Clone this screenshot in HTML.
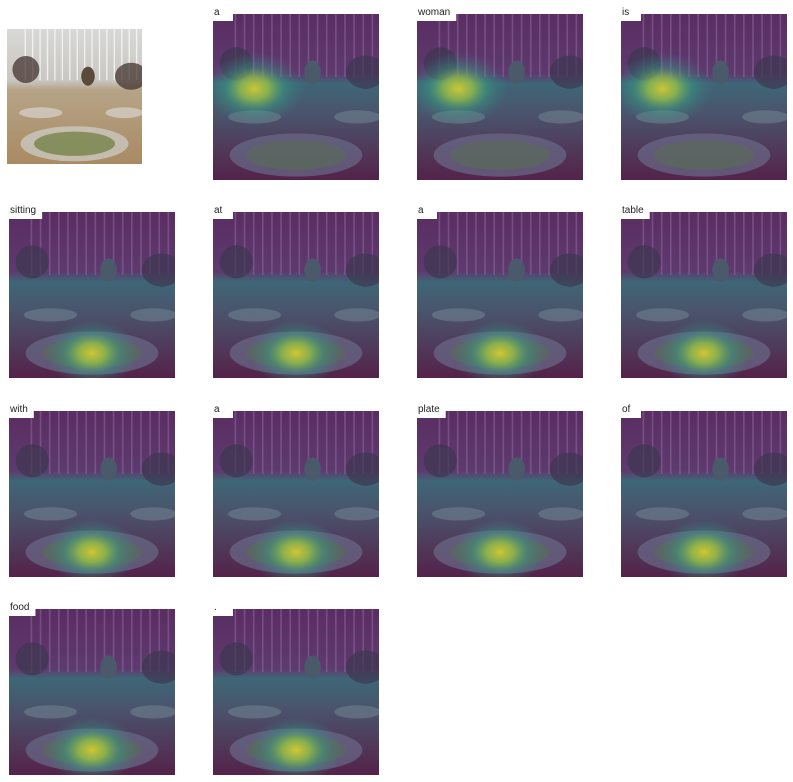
<!DOCTYPE html>
<html><head><meta charset="utf-8"><style>
body{margin:0;background:#fff;width:793px;height:782px;overflow:hidden;font-family:"Liberation Sans",sans-serif}
svg{position:absolute;left:0;top:0}
</style></head><body>
<svg id="s" width="793" height="782" viewBox="0 0 793 782">
<defs>
<linearGradient id="wall" x1="0" y1="0" x2="0" y2="1">
<stop offset="0" stop-color="#5a2d62"/><stop offset="0.36" stop-color="#5d3a6e"/><stop offset="0.42" stop-color="#3e6677"/><stop offset="0.6" stop-color="#4a546c"/><stop offset="1" stop-color="#54224a"/></linearGradient>
<radialGradient id="hot">
<stop offset="0" stop-color="#e6d72a"/><stop offset="0.3" stop-color="#9ccb45" stop-opacity="0.85"/><stop offset="0.6" stop-color="#35a584" stop-opacity="0.5"/><stop offset="1" stop-color="#2a8a8a" stop-opacity="0"/></radialGradient>
<linearGradient id="photo" x1="0" y1="0" x2="0" y2="1">
<stop offset="0" stop-color="#d8d8d6"/><stop offset="0.38" stop-color="#c9c7c2"/><stop offset="0.45" stop-color="#b6a487"/><stop offset="1" stop-color="#a98a63"/></linearGradient>
</defs>
</svg>
<script>
const words=["a","woman","is","sitting","at","a","table","with","a","plate","of","food","."];
const focusX=[0.25,0.25,0.25,0.5,0.5,0.5,0.5,0.5,0.5,0.5,0.5,0.5,0.5];
const focusY=[0.45,0.45,0.45,0.85,0.85,0.85,0.85,0.85,0.85,0.85,0.85,0.85,0.85];
const s=document.getElementById('s');const NS="http://www.w3.org/2000/svg";const defs=s.querySelector('defs');
function mk(t,a,p){const e=document.createElementNS(NS,t);for(const k in a)e.setAttribute(k,a[k]);(p||s).appendChild(e);return e;}
let cid=0;
function scene(g,x,y,W,photo){
  const cp=mk('clipPath',{id:'c'+cid},defs);mk('rect',{x:x,y:y,width:W,height:W},cp);
  g.setAttribute('clip-path','url(#c'+cid+')');cid++;
  mk('rect',{x:x,y:y,width:W,height:W,fill:photo?'url(#photo)':'url(#wall)'},g);
  for(let i=0;i<16;i++)mk('rect',{x:x+W*(0.13+i*0.055),y:y,width:W*0.01,height:W*0.38,fill:photo?'#f4f4f2':'#9a70a8',opacity:photo?0.9:0.45},g);
  const dark=photo?'#3a2a25':'#3d3650';
  mk('ellipse',{cx:x+W*0.14,cy:y+W*0.3,rx:W*0.1,ry:W*0.1,fill:dark,opacity:0.7},g);
  mk('ellipse',{cx:x+W*0.92,cy:y+W*0.35,rx:W*0.12,ry:W*0.1,fill:dark,opacity:0.7},g);
  mk('ellipse',{cx:x+W*0.6,cy:y+W*0.35,rx:W*0.05,ry:W*0.07,fill:photo?'#5a4a3a':'#4a5a6a'},g);
  mk('ellipse',{cx:x+W*0.25,cy:y+W*0.62,rx:W*0.16,ry:W*0.04,fill:photo?'#ddd':'#6e8090',opacity:0.6},g);
  mk('ellipse',{cx:x+W*0.87,cy:y+W*0.62,rx:W*0.14,ry:W*0.04,fill:photo?'#ddd':'#6e8090',opacity:0.6},g);
  mk('ellipse',{cx:x+W*0.5,cy:y+W*0.85,rx:W*0.4,ry:W*0.13,fill:photo?'#cfd0cc':'#6a6a88',opacity:0.7},g);
  mk('ellipse',{cx:x+W*0.5,cy:y+W*0.85,rx:W*0.3,ry:W*0.09,fill:photo?'#6b7a3a':'#5a6a5a',opacity:0.7},g);
}
const g0=mk('g',{});


scene(g0,7,29,135,true);
const colX=[9,213,417,621],rowY=[14,212,411,609];
for(let k=0;k<words.length;k++){
  const idx=k+1,c=idx%4,r=Math.floor(idx/4),x=colX[c],y=rowY[r],W=166;
  const g=mk('g',{});
  
  
  scene(g,x,y,W,false);
  const h=mk('ellipse',{cx:x+W*focusX[k],cy:y+W*focusY[k],rx:W*(k<3?0.3:0.28),ry:W*(k<3?0.22:0.2),fill:'url(#hot)',opacity:0.85},g);
  
  
  const lb=mk('rect',{x:x,y:y-9,width:20,height:16,fill:'#fff'});
  
  
  const t=mk('text',{x:x+1,y:y+1,'font-size':10,fill:'#222','font-family':'Liberation Sans, sans-serif'});
  t.textContent=words[k];
  
  
  lb.setAttribute('width',Math.max(t.getComputedTextLength()+7,20));
}
</script>
</body></html>
